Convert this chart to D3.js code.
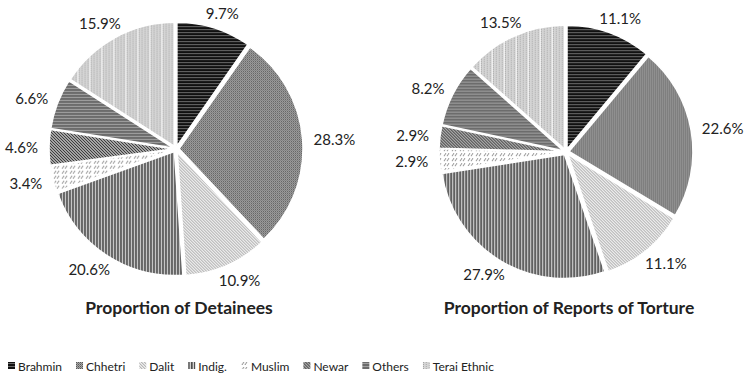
<!DOCTYPE html>
<html>
<head>
<meta charset="utf-8">
<script src="https://cdn.jsdelivr.net/npm/d3@7"></script>
<style>
  body { margin: 0; background: #fff; }
  svg { display: block; }
  text { font-family: Lato, "Open Sans", sans-serif; fill: #222; }
</style>
</head>
<body>
<div id="chart"></div>
<script>
var groups = ["Brahmin", "Chhetri", "Dalit", "Indig.", "Muslim", "Newar", "Others", "Terai Ethnic"];
var detainees = [9.7, 28.3, 10.9, 20.6, 3.4, 4.6, 6.6, 15.9];
var torture = [11.1, 22.6, 11.1, 27.9, 2.9, 2.9, 8.2, 13.5];
var titles = ["Proportion of Detainees", "Proportion of Reports of Torture"];

function init() {
    var w = 746, h = 374;
    var r = 124;

    var svg = d3.select("#chart").append("svg")
        .attr("width", w)
        .attr("height", h);

    var defs = svg.append("defs");

    // one fill pattern per group, greyscale like the original
    function pat(id, pw, ph, bg, draw) {
        var p = defs.append("pattern")
            .attr("id", id)
            .attr("patternUnits", "userSpaceOnUse")
            .attr("width", pw)
            .attr("height", ph);
        p.append("rect").attr("width", pw).attr("height", ph).attr("fill", bg);
        draw(p);
    }

    pat("p0", 4, 3, "#111", function(p) {
        p.append("rect").attr("y", 0).attr("width", 4).attr("height", 1).attr("fill", "#6a6a6a");
    });
    pat("p1", 2, 2, "#a8a8a8", function(p) {
        p.append("rect").attr("width", 1).attr("height", 1).attr("fill", "#555");
        p.append("rect").attr("x", 1).attr("y", 1).attr("width", 1).attr("height", 1).attr("fill", "#777");
    });
    pat("p2", 3, 3, "#eee", function(p) {
        p.append("path").attr("d", "M0,0L3,3M-1,2L1,4M2,-1L4,1").attr("stroke", "#999").attr("stroke-width", 0.9);
    });
    pat("p3", 3, 3, "#e2e2e2", function(p) {
        p.append("rect").attr("x", 0).attr("width", 1.4).attr("height", 3).attr("fill", "#222");
    });
    pat("p4", 8, 5, "#fff", function(p) {
        p.append("path").attr("d", "M1,4L3,1M4,4L6,1").attr("stroke", "#777").attr("stroke-width", 0.9);
    });
    pat("p5", 3, 3, "#d4d4d4", function(p) {
        p.append("path").attr("d", "M0,0L3,3M-1,2L1,4M2,-1L4,1").attr("stroke", "#333").attr("stroke-width", 1.1);
    });
    pat("p6", 4, 3, "#6c6c6c", function(p) {
        p.append("rect").attr("y", 0).attr("width", 4).attr("height", 1).attr("fill", "#a0a0a0");
    });
    pat("p7", 12, 2, "#d4d4d4", function(p) {
        p.append("rect").attr("width", 1).attr("height", 1).attr("fill", "#999");
        p.append("rect").attr("x", 6).attr("y", 1).attr("width", 1).attr("height", 1).attr("fill", "#aaa");
        p.append("rect").attr("x", 3).attr("y", 0).attr("width", 1).attr("height", 1).attr("fill", "#aaa");
        p.append("rect").attr("x", 9).attr("y", 1).attr("width", 1).attr("height", 1).attr("fill", "#aaa");
        p.append("rect").attr("x", 11).attr("width", 1).attr("height", 2).attr("fill", "#fff");
    });

    var pie = d3.pie().sort(null).value(function(d) { return d; });
    var arc = d3.arc().innerRadius(0).outerRadius(r);

    var centers = [[176, 149], [566, 152]];
    var series = [detainees, torture];

    series.forEach(function(values, k) {
        var g = svg.append("g")
            .attr("transform", "translate(" + centers[k][0] + "," + centers[k][1] + ")");

        var arcs = pie(values);

        g.selectAll("path")
            .data(arcs)
            .enter()
            .append("path")
            .attr("d", arc)
            .attr("fill", function(d, i) { return "url(#p" + i + ")"; })
            .attr("stroke", "#fff")
            .attr("stroke-width", 1.5)
            .attr("transform", function(d) {
                var a = (d.startAngle + d.endAngle) / 2;
                return "translate(" + (3 * Math.sin(a)) + "," + (-3 * Math.cos(a)) + ")";
            });

        var labels = g.selectAll("text.lab")
            .data(arcs)
            .enter()
            .append("text")
            .attr("class", "lab")
            .attr("font-size", 15)
            .attr("text-anchor", "middle")
            .attr("dominant-baseline", "central")
            .text(function(d) { return d3.format(".1f")(d.data) + "%"; });

        labels.each(function(d) {
            var a = (d.startAngle + d.endAngle) / 2;
            var R = r + 12;
            var tw = this.getComputedTextLength();
            var x = R * Math.sin(a) + Math.sin(a) * (tw / 2 + 2);
            var y = -R * Math.cos(a) - Math.cos(a) * 7;
            d3.select(this).attr("x", x).attr("y", y);
        });

        svg.append("text")
            .attr("x", centers[k][0] + 3)
            .attr("y", 314)
            .attr("text-anchor", "middle")
            .attr("font-size", 17.5)
            .attr("font-weight", "bold")
            .attr("fill", "#111")
            .text(titles[k]);
    });

    // legend along the bottom
    var leg = svg.append("g").attr("transform", "translate(8,366)");
    var xPos = 0;
    groups.forEach(function(name, i) {
        var item = leg.append("g").attr("transform", "translate(" + xPos + ",0)");
        item.append("rect")
            .attr("x", 0)
            .attr("y", -4)
            .attr("width", 7)
            .attr("height", 7)
            .attr("fill", "url(#p" + i + ")");
        var t = item.append("text")
            .attr("x", 10)
            .attr("y", 0)
            .attr("dominant-baseline", "central")
            .attr("font-size", 12)
            .text(name);
        xPos += 10 + t.node().getComputedTextLength() + 14;
    });
}

window.onload = init;
</script>
</body>
</html>
